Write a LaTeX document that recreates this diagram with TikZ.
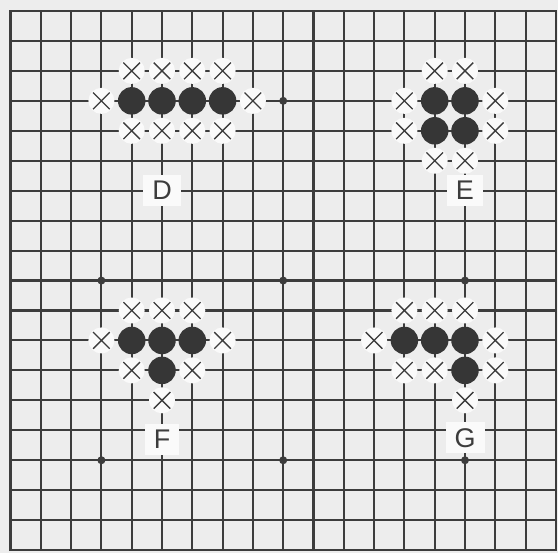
\documentclass[tikz,border=0pt]{standalone}
\usepackage{fontspec}
\setmainfont{Liberation Sans}
\definecolor{boardbg}{HTML}{EDEDED}
\definecolor{patch}{HTML}{FAFAFA}
\definecolor{linecol}{HTML}{3C3C3C}
\definecolor{stonecol}{HTML}{363636}
\tikzset{
  gridline/.style={draw=linecol, line width=2.1pt},
  boardedge/.style={draw=linecol, line width=2.8pt},
  hoshi/.style={circle, fill=linecol, minimum size=8pt, inner sep=0pt},
  stone/.style={circle, fill=stonecol, minimum size=27.5pt, inner sep=0pt},
  xmark/.style={circle, fill=patch, minimum size=26pt, inner sep=0pt,
    path picture={\draw[linecol, line width=1.3pt]
      ([shift={(-8.3pt,-8.3pt)}]path picture bounding box.center) -- ++(16.6pt,16.6pt)
      ([shift={(-8.3pt,8.3pt)}]path picture bounding box.center) -- ++(16.6pt,-16.6pt);}},
  lab/.style={fill=patch, inner xsep=9pt, inner ysep=6pt, text=linecol,
    font=\fontsize{27}{27}\selectfont}
}
\begin{document}
\begin{tikzpicture}[x=1pt,y=-1pt]
\useasboundingbox[fill=boardbg] (0,0) rectangle (558,553);
\begin{scope}[shift={(10.5,11)}, x=30.3pt, y=-29.95pt]
  % grid
  \foreach \i in {0,...,18} {
    \draw[gridline] (\i,0) -- (\i,18);
    \draw[gridline] (0,\i) -- (18,\i);
  }
  \draw[boardedge] (0,0) rectangle (18,18);
  % star points
  \node[hoshi] (h1) at (9,3) {};
  \node[hoshi] (h2) at (3,9) {};
  \node[hoshi] (h3) at (9,9) {};
  \node[hoshi] (h4) at (15,9) {};
  \node[hoshi] (h5) at (3,15) {};
  \node[hoshi] (h6) at (9,15) {};
  \node[hoshi] (h7) at (15,15) {};
  % D
  \foreach \c in {4,...,7} {
    \node[xmark] (dxa\c) at (\c,2) {};
    \node[xmark] (dxb\c) at (\c,4) {};
    \node[stone] (ds\c) at (\c,3) {};
  }
  \node[xmark] (dxl) at (3,3) {};
  \node[xmark] (dxr) at (8,3) {};
  \node[lab] (lD) at (5,6) {D};
  % E
  \foreach \c in {14,15} {
    \node[xmark] (exa\c) at (\c,2) {};
    \node[xmark] (exb\c) at (\c,5) {};
    \node[stone] (esa\c) at (\c,3) {};
    \node[stone] (esb\c) at (\c,4) {};
  }
  \foreach \r in {3,4} {
    \node[xmark] (exl\r) at (13,\r) {};
    \node[xmark] (exr\r) at (16,\r) {};
  }
  \node[lab] (lE) at (15,6) {E};
  % F
  \foreach \c in {4,5,6} {
    \node[xmark] (fxa\c) at (\c,10) {};
    \node[stone] (fs\c) at (\c,11) {};
  }
  \node[stone] (fs12) at (5,12) {};
  \node[xmark] (fxl) at (3,11) {};
  \node[xmark] (fxr) at (7,11) {};
  \node[xmark] (fxc4) at (4,12) {};
  \node[xmark] (fxc6) at (6,12) {};
  \node[xmark] (fxd) at (5,13) {};
  \node[lab] (lF) at (5,14.3) {F};
  % G
  \foreach \c in {13,14,15} {
    \node[xmark] (gxa\c) at (\c,10) {};
    \node[stone] (gs\c) at (\c,11) {};
  }
  \node[stone] (gs12) at (15,12) {};
  \node[xmark] (gxl) at (12,11) {};
  \node[xmark] (gxr) at (16,11) {};
  \node[xmark] (gxc13) at (13,12) {};
  \node[xmark] (gxc14) at (14,12) {};
  \node[xmark] (gxc16) at (16,12) {};
  \node[xmark] (gxd) at (15,13) {};
  \node[lab] (lG) at (15,14.25) {G};
\end{scope}
\end{tikzpicture}
\end{document}
